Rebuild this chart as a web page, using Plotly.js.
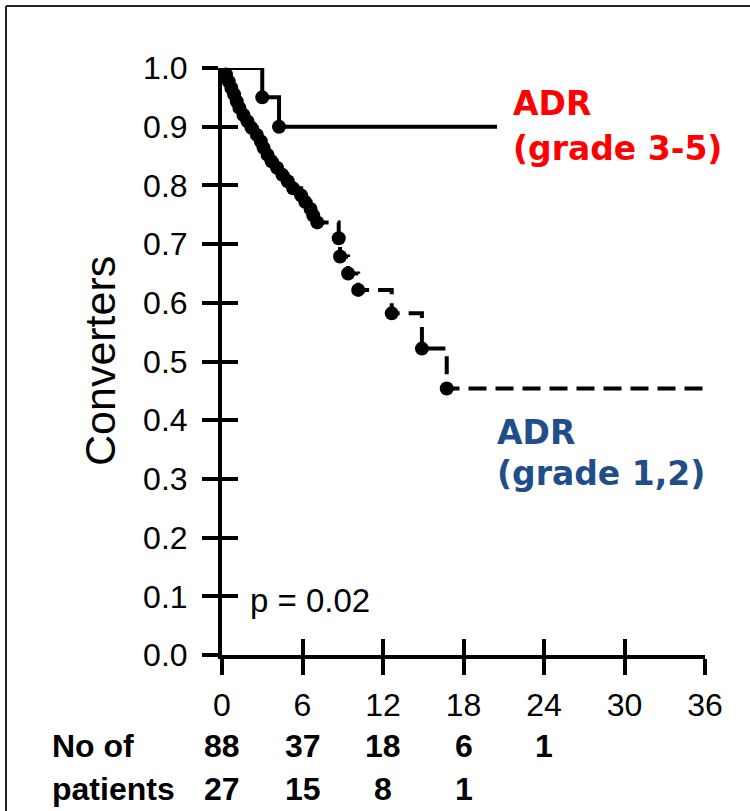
<!DOCTYPE html>
<html>
<head>
<meta charset="utf-8">
<script src="https://cdn.plot.ly/plotly-3.0.1.min.js"></script>
<style>
html,body{margin:0;padding:0;background:#fff;}
#chart{width:750px;height:811px;}
</style>
</head>
<body>
<div id="chart"></div>
<script>
// ---- data ----
const xTicks = [0, 6, 12, 18, 24, 30, 36];
const yTicks = [0, 0.1, 0.2, 0.3, 0.4, 0.5, 0.6, 0.7, 0.8, 0.9, 1.0];
const yTickText = ["0.0","0.1","0.2","0.3","0.4","0.5","0.6","0.7","0.8","0.9","1.0"];

// ADR grade 1,2 (dashed) : event times (months) and survival after each drop
const g12Times = [0.3,0.5,0.7,0.9,1.1,1.3,1.6,1.9,2.2,2.6,2.9,3.1,3.4,3.7,4.1,4.5,4.9,5.3,5.9,6.2,6.6,6.8,7.1,8.7,8.8,9.4,10.15,12.65,14.9,16.75];
const g12Surv  = [0.989,0.977,0.966,0.955,0.943,0.932,0.920,0.909,0.898,0.886,0.875,0.864,0.852,0.841,0.830,0.818,0.807,0.795,0.783,0.772,0.760,0.749,0.737,0.710,0.679,0.650,0.622,0.582,0.522,0.454];
const g12End = 36;

// ADR grade 3-5 (solid)
const g35Times = [3.0, 4.25];
const g35Surv  = [0.95, 0.90];
const g35End = 20.5;

// numbers at risk
const riskTimes = [0, 6, 12, 18, 24];
const riskG12 = ["88", "37", "18", "6", "1"];
const riskG35 = ["27", "15", "8", "1"];

// ---- build ----
function stepLine(times, surv, end) {
  const x = [0].concat(times).concat([end]);
  const y = [1.0].concat(surv).concat([surv[surv.length - 1]]);
  return {x, y};
}
const L12 = stepLine(g12Times, g12Surv, g12End);
const L35 = stepLine(g35Times, g35Surv, g35End);

const traces = [
  {x: L12.x, y: L12.y, mode: 'lines', line: {shape: 'hv', color: '#000', width: 4, dash: '18px,9px'}, hoverinfo: 'skip', showlegend: false},
  {x: g12Times, y: g12Surv, mode: 'markers', marker: {color: '#000', size: 14}, cliponaxis: false, hoverinfo: 'skip', showlegend: false},
  {x: L35.x, y: L35.y, mode: 'lines', line: {shape: 'hv', color: '#000', width: 4}, hoverinfo: 'skip', showlegend: false},
  {x: g35Times, y: g35Surv, mode: 'markers', marker: {color: '#000', size: 14}, cliponaxis: false, hoverinfo: 'skip', showlegend: false},
  {x: [], y: [], xaxis: 'x2', yaxis: 'y2', mode: 'markers', hoverinfo: 'skip', showlegend: false}
];

// layout helpers (pixel -> paper)
const L = 222, R = 705, T = 68, B = 655;
const px = v => (v - L) / (R - L);
const py = v => (B - v) / (B - T);

const tickFont = {family: 'Liberation Sans, Arial, sans-serif', size: 32, color: '#000'};
const annotations = [];
function addText(text, xpx, ypx, font, opts) {
  annotations.push(Object.assign({text, x: px(xpx), y: py(ypx), xref: 'paper', yref: 'paper',
    xanchor: 'left', yanchor: 'middle', showarrow: false, font}, opts || {}));
}
const redFont = {family: 'DejaVu Sans, Verdana, sans-serif', size: 33, color: '#FF0000', weight: 'bold'};
const blueFont = {family: 'DejaVu Sans, Verdana, sans-serif', size: 33, color: '#1F4E8A', weight: 'bold'};
const boldFont = {family: 'Liberation Sans, Arial, sans-serif', size: 32, color: '#000', weight: 'bold'};

addText('<b>ADR</b>', 511, 103, redFont);
addText('<b>(grade 3-5)</b>', 511, 148, redFont);
addText('<b>ADR</b>', 495, 433, blueFont);
addText('<b>(grade 1,2)</b>', 495, 473, blueFont);
addText('p = 0.02', 248, 600, {family: 'Liberation Sans, Arial, sans-serif', size: 33, color: '#000'});
addText('<b>No of</b>', 50, 746, boldFont);
addText('<b>patients</b>', 50, 789, boldFont);
addText('Converters', 100, 361, {family: 'Liberation Sans, Arial, sans-serif', size: 43, color: '#000'},
  {textangle: -90, xanchor: 'center'});

riskTimes.forEach((t, i) => {
  if (riskG12[i] !== undefined) annotations.push({text: '<b>' + riskG12[i] + '</b>', x: t, xref: 'x', y: py(746), yref: 'paper',
    xanchor: 'center', yanchor: 'middle', showarrow: false, font: boldFont});
  if (riskG35[i] !== undefined) annotations.push({text: '<b>' + riskG35[i] + '</b>', x: t, xref: 'x', y: py(789), yref: 'paper',
    xanchor: 'center', yanchor: 'middle', showarrow: false, font: boldFont});
});

const axisCommon = {showgrid: false, zeroline: false, showline: true, linecolor: '#000', linewidth: 4,
  tickcolor: '#000', tickwidth: 4, ticklen: 16, fixedrange: true};

const layout = {
  width: 750, height: 811,
  margin: {l: L, r: 750 - R, t: T, b: 811 - B, pad: 0},
  paper_bgcolor: '#fff', plot_bgcolor: 'rgba(0,0,0,0)',
  showlegend: false,
  xaxis: Object.assign({}, axisCommon, {range: [0, 36], tickvals: xTicks, ticktext: xTicks.map(String),
    ticks: 'outside', tickfont: tickFont, ticklabelstandoff: 3}),
  yaxis: Object.assign({}, axisCommon, {range: [0, 1.0], tickvals: yTicks, ticktext: yTickText,
    ticks: 'outside', tickfont: tickFont, ticklabelstandoff: 8}),
  xaxis2: Object.assign({}, axisCommon, {range: [0, 36], tickvals: xTicks, ticks: 'inside', showticklabels: false,
    overlaying: 'x', anchor: 'y2', side: 'bottom'}),
  yaxis2: Object.assign({}, axisCommon, {range: [0, 1.0], tickvals: yTicks, ticks: 'inside', showticklabels: false,
    overlaying: 'y', anchor: 'x2', side: 'left'}),
  annotations,
  shapes: [
    {type: 'line', xref: 'paper', yref: 'paper', x0: px(6), x1: px(6), y0: py(6), y1: py(815), line: {color: '#222', width: 2}},
    {type: 'line', xref: 'paper', yref: 'paper', x0: px(6), x1: px(752), y0: py(6), y1: py(6), line: {color: '#222', width: 2}}
  ]
};

Plotly.newPlot('chart', traces, layout, {staticPlot: true, displayModeBar: false});
</script>
</body>
</html>
